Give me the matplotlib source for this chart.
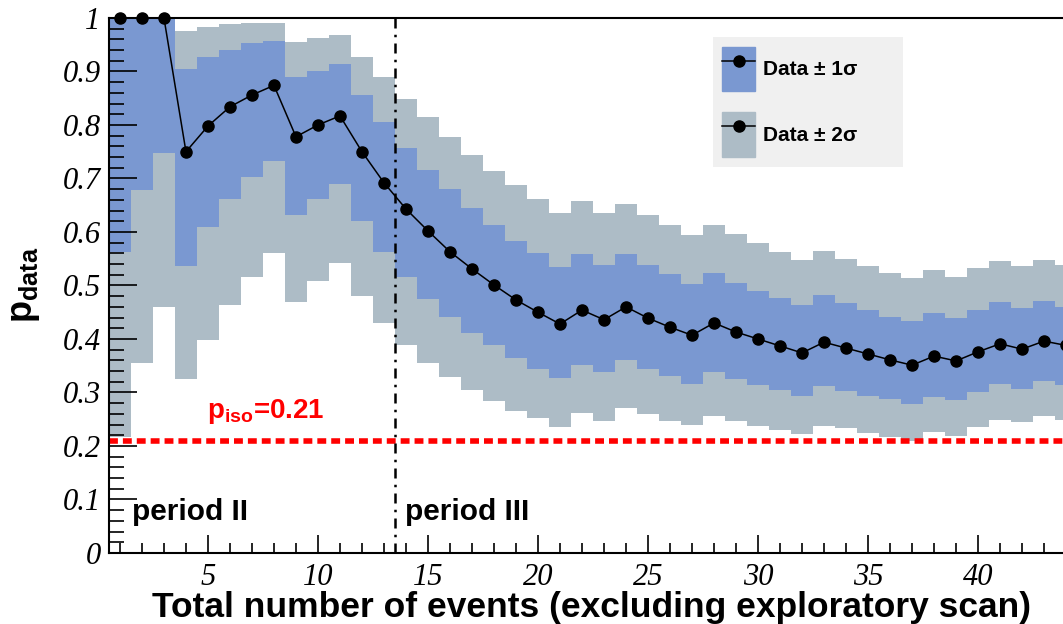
import numpy as np
import matplotlib
matplotlib.use('Agg')
import matplotlib.pyplot as plt
from matplotlib.patches import Patch, Rectangle
from matplotlib.lines import Line2D
from matplotlib.ticker import MultipleLocator, FixedLocator, FuncFormatter

plt.rcParams['font.family'] = ['Liberation Sans', 'DejaVu Sans']
plt.rcParams['mathtext.fontset'] = 'custom'
plt.rcParams['mathtext.rm'] = 'Liberation Sans:bold'
plt.rcParams['mathtext.bf'] = 'Liberation Sans:bold'
plt.rcParams['mathtext.it'] = 'Liberation Sans:bold'

# number of events (one bin per event count)
n_events = np.arange(1, 45)

p_data = [1.0, 1.0, 1.0, 0.750, 0.798, 0.834, 0.856, 0.874, 0.778, 0.800,
          0.817, 0.750, 0.692, 0.643, 0.602, 0.563, 0.531, 0.501, 0.473, 0.450,
          0.428, 0.454, 0.436, 0.460, 0.439, 0.422, 0.407, 0.430, 0.413, 0.400,
          0.387, 0.374, 0.394, 0.383, 0.372, 0.361, 0.351, 0.368, 0.359, 0.376,
          0.391, 0.381, 0.396, 0.388]

lo_1s = [0.563, 0.679, 0.748, 0.536, 0.609, 0.661, 0.703, 0.733, 0.632, 0.661,
         0.690, 0.621, 0.563, 0.515, 0.475, 0.441, 0.411, 0.389, 0.365, 0.344,
         0.327, 0.351, 0.338, 0.361, 0.344, 0.331, 0.316, 0.338, 0.325, 0.314,
         0.305, 0.293, 0.313, 0.303, 0.293, 0.288, 0.279, 0.292, 0.286, 0.300,
         0.316, 0.307, 0.321, 0.314]
hi_1s = [1.0, 1.0, 1.0, 0.905, 0.927, 0.940, 0.953, 0.957, 0.890, 0.901,
         0.914, 0.856, 0.805, 0.757, 0.716, 0.680, 0.645, 0.613, 0.583, 0.561,
         0.535, 0.559, 0.538, 0.559, 0.538, 0.521, 0.503, 0.523, 0.505, 0.490,
         0.476, 0.464, 0.482, 0.467, 0.454, 0.442, 0.434, 0.449, 0.440, 0.454,
         0.469, 0.458, 0.471, 0.460]

lo_2s = [0.217, 0.355, 0.460, 0.325, 0.398, 0.464, 0.516, 0.561, 0.469, 0.509,
         0.542, 0.480, 0.430, 0.388, 0.355, 0.329, 0.305, 0.284, 0.265, 0.252,
         0.236, 0.262, 0.247, 0.271, 0.260, 0.247, 0.239, 0.256, 0.247, 0.237,
         0.230, 0.222, 0.237, 0.233, 0.224, 0.217, 0.209, 0.226, 0.219, 0.235,
         0.249, 0.244, 0.256, 0.249]
hi_2s = [1.0, 1.0, 1.0, 0.976, 0.983, 0.989, 0.991, 0.991, 0.955, 0.962,
         0.968, 0.927, 0.889, 0.849, 0.815, 0.778, 0.744, 0.714, 0.688, 0.661,
         0.636, 0.658, 0.635, 0.652, 0.631, 0.613, 0.595, 0.613, 0.596, 0.580,
         0.562, 0.547, 0.565, 0.550, 0.537, 0.523, 0.514, 0.529, 0.516, 0.532,
         0.545, 0.536, 0.547, 0.538]

p_iso = 0.21
period_boundary = 13.5

c1 = '#7a98d1'
c2 = '#adbcc6'

fig = plt.figure(figsize=(10.63, 6.24), dpi=100)
ax = fig.add_axes([0.1025, 0.1138, 0.9107, 0.8574])
ax.set_axisbelow(False)

edges = np.append(n_events - 0.5, n_events[-1] + 0.5)
ax.stairs(hi_2s, edges, baseline=lo_2s, fill=True, color=c2, lw=0, zorder=1)
ax.stairs(hi_1s, edges, baseline=lo_1s, fill=True, color=c1, lw=0, zorder=2)

ax.axhline(p_iso, color='#ff0000', lw=4, ls=(0, (1.6, 0.9)), zorder=3)
ax.axvline(period_boundary, color='black', lw=1.8, ls=(0, (4, 2.5, 1, 2.5)), zorder=3)

ax.plot(n_events, p_data, color='black', lw=1.1, marker='o', ms=8,
        clip_on=False, zorder=5)

ax.set_xlim(0.5, 44.5)
ax.set_ylim(0, 1)

# ROOT-like ticks: inward, serif italic labels
ax.xaxis.set_major_locator(FixedLocator(np.arange(5, 45, 5)))
ax.xaxis.set_minor_locator(MultipleLocator(1))
ax.yaxis.set_major_locator(MultipleLocator(0.1))
ax.yaxis.set_minor_locator(MultipleLocator(0.02))
ax.yaxis.set_major_formatter(FuncFormatter(lambda v, p: '%g' % round(v, 2)))
ax.tick_params(which='both', direction='in', top=False, right=False,
               width=1.2, color='black')
ax.tick_params(axis='y', which='major', length=20, pad=6)
ax.tick_params(axis='y', which='minor', length=11)
ax.tick_params(axis='x', which='major', length=13, pad=7)
ax.tick_params(axis='x', which='minor', length=7)
for lab in ax.get_xticklabels() + ax.get_yticklabels():
    lab.set_fontfamily('Liberation Serif')
    lab.set_fontstyle('italic')
    lab.set_fontsize(22)
for s in ax.spines.values():
    s.set_linewidth(1.5)
    s.set_zorder(6)

fig.text(152 / 1063, 1 - 617 / 624,
         'Total number of events (excluding exploratory scan)',
         fontsize=25.5, fontweight='bold', ha='left', va='baseline')
fig.text(42 / 1063, 1 - 285 / 624, r'$\mathbf{p_{data}}$', fontsize=26,
         rotation=90, ha='right', va='center')

ax.text(4.95, 0.252, r'$\mathbf{p_{iso}}$=0.21', color='#ff0000',
        fontsize=20, fontweight='bold', ha='left', va='baseline')
ax.text(1.55, 0.062, 'period II', fontsize=21.5, fontweight='bold',
        ha='left', va='baseline')
ax.text(13.95, 0.062, 'period III', fontsize=21.5, fontweight='bold',
        ha='left', va='baseline')

# legend background box
ax.add_patch(Rectangle((713 / 1063, 1 - 167 / 624), 190 / 1063, 130 / 624,
                       transform=fig.transFigure, facecolor='#f0f0f0',
                       edgecolor='none', zorder=6, clip_on=False))

marker_line = Line2D([], [], color='black', lw=1.1, marker='o', ms=8)
handles = [(Patch(color=c1), marker_line), (Patch(color=c2), marker_line)]
leg = ax.legend(handles, ['Data \u00b1 1\u03c3', 'Data \u00b1 2\u03c3'],
                loc='upper left', bbox_to_anchor=(722 / 1063, 1 - 47 / 624),
                bbox_transform=fig.transFigure, borderaxespad=0, borderpad=0,
                frameon=False, handlelength=1.6, handleheight=2.9,
                labelspacing=1.0, handletextpad=0.35,
                prop={'family': 'Liberation Sans', 'weight': 'bold', 'size': 15})
leg.set_zorder(7)

fig.savefig('out.png', dpi=100)
